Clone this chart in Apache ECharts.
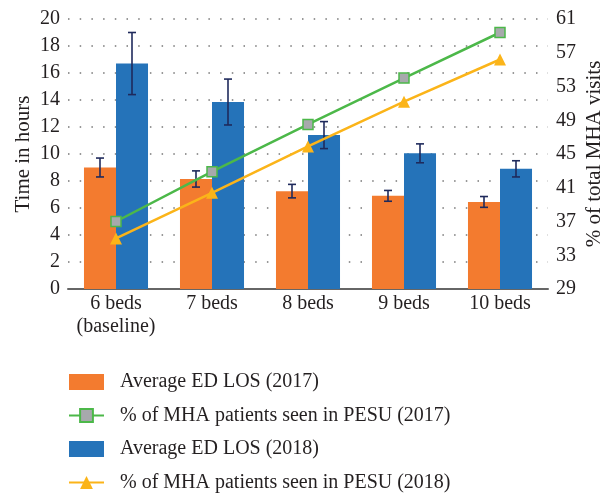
<!DOCTYPE html>
<html>
<head>
<meta charset="utf-8">
<script src="https://cdn.jsdelivr.net/npm/echarts@6/dist/echarts.min.js"></script>
<style>
  html, body { margin: 0; padding: 0; background: #fff; }
  #chart { width: 605px; height: 493px; }
</style>
</head>
<body>
<div id="chart"></div>
<script>
  // 数据
  var categories = ["6 beds\n(baseline)", "7 beds", "8 beds", "9 beds", "10 beds"];
  var los2017 = [9.0, 8.15, 7.25, 6.9, 6.45];
  var los2017Err = [0.7, 0.6, 0.5, 0.4, 0.4];
  var los2018 = [16.7, 13.85, 11.4, 10.05, 8.9];
  var los2018Err = [2.3, 1.7, 1.0, 0.7, 0.6];
  var pct2017 = [37.0, 42.9, 48.5, 54.0, 59.4];
  var pct2018 = [35.0, 40.4, 45.9, 51.2, 56.2];

  var leftTicks = { min: 0, max: 20, interval: 2 };
  var rightTicks = { min: 29, max: 61, interval: 4 };

  var fontFam = '"Liberation Serif", "DejaVu Serif", serif';
  var textColor = "#231f20";

  function errData(vals, errs) {
    return vals.map(function (v, i) { return [i, v - errs[i], v + errs[i]]; });
  }

  // 误差线
  function errorRender(side) {
    return function (params, api) {
      var i = api.value(0);
      var lo = api.coord([i, api.value(1)]);
      var hi = api.coord([i, api.value(2)]);
      var band = api.size([1, 0])[0];
      var bw = band / 3;
      var x = lo[0] + side * bw / 2;
      var cap = 4;
      var st = { stroke: "#1f2a5c", lineWidth: 1.6 };
      return {
        type: "group",
        children: [
          { type: "line", shape: { x1: x, y1: lo[1], x2: x, y2: hi[1] }, style: st },
          { type: "line", shape: { x1: x - cap, y1: lo[1], x2: x + cap, y2: lo[1] }, style: st },
          { type: "line", shape: { x1: x - cap, y1: hi[1], x2: x + cap, y2: hi[1] }, style: st }
        ]
      };
    };
  }

  var myChart = echarts.init(document.getElementById("chart"));
  myChart.setOption({
    animation: false,
    textStyle: { fontFamily: fontFam, color: textColor },
    grid: { left: 68, right: 57, top: 19, bottom: 204, outerBoundsMode: "none", containLabel: false },
    legend: {
      orient: "vertical",
      left: 68,
      top: 372,
      height: 200,
      padding: 0,
      itemWidth: 35,
      itemHeight: 16,
      itemGap: 13.5,
      textStyle: { fontFamily: fontFam, fontSize: 20, color: textColor, padding: [0, 0, 0, 11] },
      data: [
        { name: "Average ED LOS (2017)", icon: "rect" },
        "% of MHA patients seen in PESU (2017)",
        { name: "Average ED LOS (2018)", icon: "rect" },
        "% of MHA patients seen in PESU (2018)"
      ]
    },
    xAxis: {
      type: "category",
      data: categories,
      axisLine: { lineStyle: { color: "#666", width: 2 } },
      axisTick: { show: false },
      axisLabel: { interval: 0, fontSize: 20, color: textColor, fontFamily: fontFam, lineHeight: 23, margin: 3 }
    },
    yAxis: [
      {
        type: "value",
        min: leftTicks.min, max: leftTicks.max, interval: leftTicks.interval,
        name: "Time in hours",
        nameLocation: "middle",
        nameMoveOverlap: false,
        nameGap: 34,
        nameTextStyle: { fontSize: 21, color: textColor, fontFamily: fontFam },
        axisLine: { show: false },
        axisTick: { show: false },
        axisLabel: { fontSize: 20, color: textColor, fontFamily: fontFam, margin: 8 },
        splitLine: { lineStyle: { color: "#777", type: [1.5, 10.2], width: 1.5 } }
      },
      {
        type: "value",
        min: rightTicks.min, max: rightTicks.max, interval: rightTicks.interval,
        name: "% of total MHA visits",
        nameLocation: "middle",
        nameMoveOverlap: false,
        nameGap: 36,
        nameTextStyle: { fontSize: 21, color: textColor, fontFamily: fontFam },
        axisLine: { show: false },
        axisTick: { show: false },
        axisLabel: { fontSize: 20, color: textColor, fontFamily: fontFam, margin: 8 },
        splitLine: { show: false }
      }
    ],
    series: [
      {
        name: "Average ED LOS (2017)",
        type: "bar",
        data: los2017,
        barGap: "0%",
        barCategoryGap: "33.3%",
        itemStyle: { color: "#f37b2f" }
      },
      {
        name: "Average ED LOS (2018)",
        type: "bar",
        data: los2018,
        itemStyle: { color: "#2573b9" }
      },
      {
        type: "custom",
        renderItem: errorRender(-1),
        data: errData(los2017, los2017Err),
        encode: { x: 0, y: [1, 2] },
        z: 5
      },
      {
        type: "custom",
        renderItem: errorRender(1),
        data: errData(los2018, los2018Err),
        encode: { x: 0, y: [1, 2] },
        z: 5
      },
      {
        name: "% of MHA patients seen in PESU (2017)",
        type: "line",
        yAxisIndex: 1,
        data: pct2017,
        symbol: "rect",
        symbolSize: 10,
        lineStyle: { color: "#4cb849", width: 2.5 },
        itemStyle: { color: "#a7a9ac", borderColor: "#4cb849", borderWidth: 1.5 },
        z: 10
      },
      {
        name: "% of MHA patients seen in PESU (2018)",
        type: "line",
        yAxisIndex: 1,
        data: pct2018,
        symbol: "triangle",
        symbolSize: 12,
        lineStyle: { color: "#fbb419", width: 2.5 },
        itemStyle: { color: "#fbb419" },
        z: 10
      }
    ]
  });
</script>
</body>
</html>
